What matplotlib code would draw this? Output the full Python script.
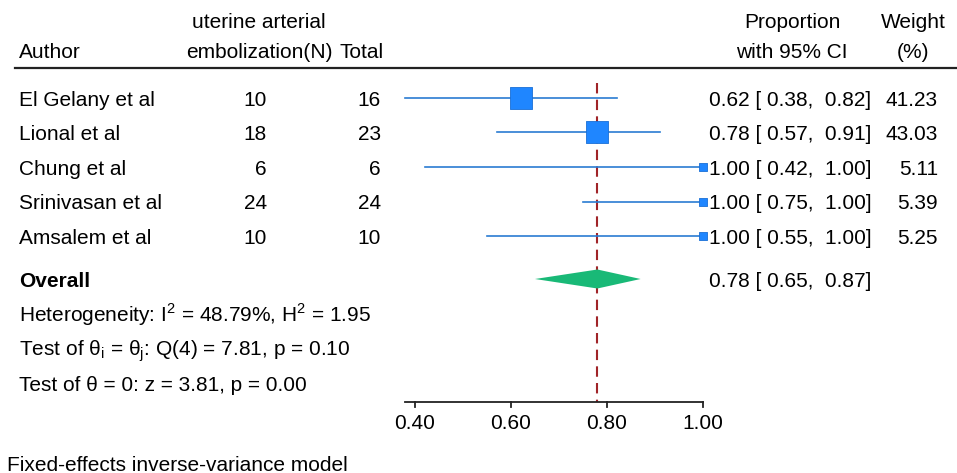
import numpy as np
import matplotlib
matplotlib.use('Agg')
import matplotlib.pyplot as plt

# data
authors = ['El Gelany et al', 'Lional et al', 'Chung et al', 'Srinivasan et al', 'Amsalem et al']
n_uae = [10, 18, 6, 24, 10]
n_total = [16, 23, 6, 24, 10]
prop = [0.62, 0.78, 1.00, 1.00, 1.00]
lower = [0.38, 0.57, 0.42, 0.75, 0.55]
upper = [0.82, 0.91, 1.00, 1.00, 1.00]
weight = [41.23, 43.03, 5.11, 5.39, 5.25]
overall = (0.78, 0.65, 0.87)
ticks = [0.40, 0.60, 0.80, 1.00]

plt.rcParams['font.family'] = ['Liberation Sans', 'DejaVu Sans']
plt.rcParams['mathtext.fontset'] = 'custom'
plt.rcParams['mathtext.rm'] = 'Liberation Sans'

W, H = 957, 473
fig = plt.figure(figsize=(W / 100, H / 100), dpi=100)
ax = fig.add_axes([0, 0, 1, 1])

# x in proportion units: 1.00 sits at pixel 703, 480 px per unit
px_one, px_unit = 703, 480
ax.set_xlim(1 - px_one / px_unit, 1 + (W - px_one) / px_unit)
ax.set_ylim(H, 0)  # y in pixels from top
ax.axis('off')

fs = 15
tr = ax.get_yaxis_transform()  # x axes fraction, y data
def fx(px):
    return px / W

def txt(px, y, s, ha='left', **kw):
    # y is the visual middle of the capitals; place on baseline
    ax.text(fx(px), y + 7.5, s, transform=tr, fontsize=fs, ha=ha, va='baseline', **kw)

row_y = [98 + 34.5 * i for i in range(len(authors))]
y_overall, y_het, y_q, y_z = 279, 314, 348, 383
y_axis = 402

# header
txt(259, 21, 'uterine arterial', ha='center')
txt(19, 50, 'Author')
txt(259, 50, 'embolization(N)', ha='center')
txt(340, 50, 'Total')
txt(792, 21, 'Proportion', ha='center')
txt(792, 50, 'with 95% CI', ha='center')
txt(913, 21, 'Weight', ha='center')
txt(913, 50, '(%)', ha='center')
ax.plot([fx(15), 1], [68, 68], transform=tr, color='#222222', lw=1.6, clip_on=False)

line_col = '#2a7cd2'
mark_col = '#1f86ff'

# reference line at overall estimate
ax.plot([overall[0], overall[0]], [83, y_axis], color='#a02428', lw=1.5,
        dashes=(5, 3), zorder=1)

for i, y in enumerate(row_y):
    txt(19, y, authors[i])
    txt(267, y, str(n_uae[i]), ha='right')
    txt(381, y, str(n_total[i]), ha='right')
    ax.plot([lower[i], upper[i]], [y, y], color=line_col, lw=1.2, zorder=2)
    side_pt = 3.45 * np.sqrt(weight[i]) * 0.72
    ax.scatter([prop[i]], [y], marker='s', s=side_pt ** 2, color=mark_col,
               edgecolors='#1a6fd6', linewidths=0.6, zorder=3)
    txt(709, y, '%.2f [ %.2f,  %.2f]' % (prop[i], lower[i], upper[i]))
    txt(938, y, '%.2f' % weight[i], ha='right')

# overall diamond
est, lo, hi = overall
ax.fill([lo, est, hi, est], [y_overall, y_overall - 9.5, y_overall, y_overall + 9.5],
        color='#19b977', lw=0, zorder=3)
txt(19, y_overall, 'Overall', fontweight='bold')
txt(709, y_overall, '%.2f [ %.2f,  %.2f]' % overall)

txt(19, y_het, r'Heterogeneity: I$^\mathregular{2}$ = 48.79%, H$^\mathregular{2}$ = 1.95')
txt(19, y_q, r'Test of θ$_\mathregular{i}$ = θ$_\mathregular{j}$: Q(4) = 7.81, p = 0.10')
txt(19, y_z, 'Test of θ = 0: z = 3.81, p = 0.00')

# x axis
ax.plot([min(lower), max(ticks)], [y_axis, y_axis], color='#222222', lw=1.3)
for t in ticks:
    ax.plot([t, t], [y_axis, y_axis + 5], color='#222222', lw=1.3)
    ax.text(t, y_axis + 19 + 7.5, '%.2f' % t, fontsize=fs, ha='center', va='baseline')

txt(7, 463, 'Fixed-effects inverse-variance model')

fig.savefig('out.png', dpi=100)
